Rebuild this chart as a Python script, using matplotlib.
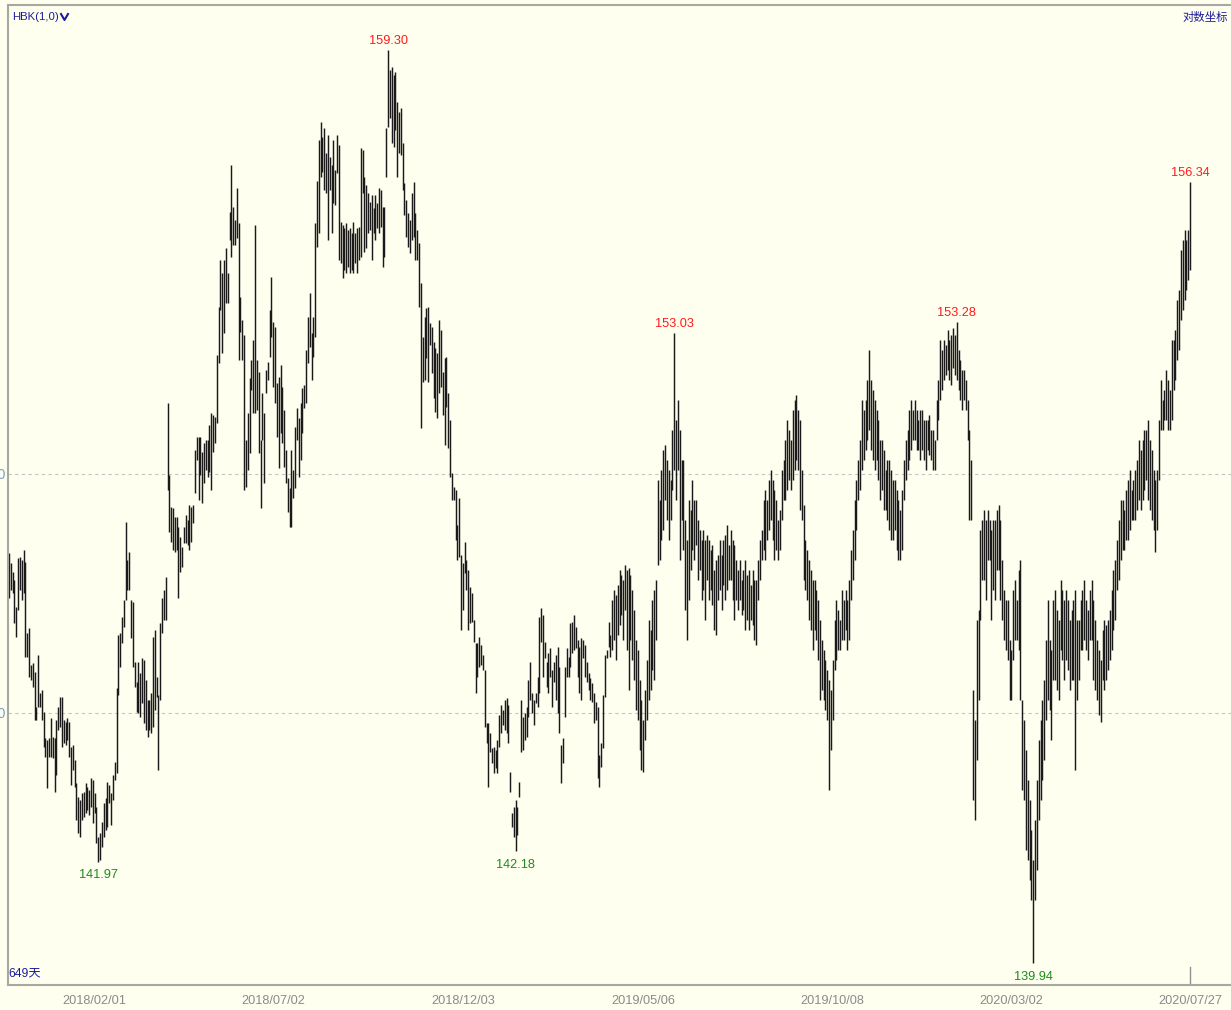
import numpy as np
import matplotlib
matplotlib.use("Agg")
import matplotlib.pyplot as plt
from matplotlib.ticker import NullLocator, FixedLocator, FixedFormatter

plt.rcParams["font.family"] = ["Liberation Sans", "Noto Sans CJK SC", "DejaVu Sans"]

# daily high / low, 649 trading days
highs = [
    148.33, 148.12, 147.93, 147.76, 147.19, 148.22, 148.24, 148.18, 148.39, 148.14,
    146.65, 146.76, 145.99, 146.03, 145.85, 145.13, 146.20, 145.41, 145.48, 145.02,
    144.49, 144.45, 144.49, 144.90, 144.51, 144.49, 144.86, 145.13, 145.33, 145.33,
    144.86, 144.82, 144.90, 144.82, 144.30, 144.34, 144.04, 143.57, 143.28, 143.22,
    143.36, 143.38, 143.57, 143.49, 143.43, 143.67, 143.63, 143.36, 143.08, 142.47,
    142.55, 142.78, 143.16, 143.26, 143.59, 143.53, 143.36, 143.73, 144.00, 145.52,
    146.61, 146.65, 146.99, 147.34, 148.98, 148.18, 148.35, 147.34, 147.30, 146.05,
    145.64, 146.05, 145.83, 146.14, 146.09, 145.68, 145.27, 145.27, 145.41, 146.57,
    146.72, 145.74, 145.37, 146.86, 147.38, 147.55,
    147.82, 151.52, 149.98, 149.30, 149.28, 149.09, 149.09, 148.88, 148.67, 148.45,
    148.88, 149.13, 149.03, 149.34, 149.30, 149.34, 150.51, 150.79, 150.79, 150.79,
    150.47, 150.66, 150.72, 150.72, 151.05, 151.30, 151.26, 151.22, 152.55, 153.60,
    154.62, 154.34, 154.62, 154.88, 154.34, 155.68, 156.72, 155.79, 155.50, 156.21,
    155.43, 153.82, 153.31, 152.99, 150.72, 151.30, 152.06, 152.44, 152.88, 155.39,
    152.44, 152.18, 150.72, 151.73, 151.30, 152.23, 152.40, 153.53, 154.25, 153.27,
    153.16, 151.94, 152.07, 152.33, 151.86, 151.37, 150.51, 149.92, 149.70, 150.51,
    150.09, 151.00, 151.41, 151.20, 151.52, 151.84, 151.90, 152.66, 153.38, 153.90,
    153.04,
    153.38, 155.43, 156.36, 157.27, 157.68, 157.34, 157.54, 156.98, 157.39, 156.89,
    156.72, 157.27, 156.61, 157.39, 157.16, 155.46, 155.39, 155.32, 155.43, 155.28,
    155.32, 155.21, 155.46, 155.21, 155.32, 155.35, 157.09, 157.05, 156.45, 156.27,
    156.10, 155.90, 156.05, 155.76, 156.05, 155.87, 156.21, 156.16, 155.79, 155.79,
    157.54, 159.30, 158.85, 158.92, 158.74, 158.81, 158.12, 157.90, 157.99, 157.21,
    156.32, 155.94, 155.65, 155.50, 156.10, 156.35, 155.65, 155.28, 155.00, 154.12,
    152.94, 153.38, 153.58, 153.60, 153.25, 153.16, 152.84, 152.70, 152.60, 153.31,
    153.10, 152.18, 152.49, 152.51, 151.73, 151.15, 150.02, 149.72, 149.66,
    148.92, 149.49, 148.28, 148.12, 148.56, 148.18, 147.97, 147.62, 147.49, 146.92,
    146.45, 146.45, 146.57, 146.40, 146.20, 145.89, 144.80, 144.80, 144.59, 144.28,
    144.30, 144.24, 144.45, 144.96, 145.17, 145.06, 145.27, 145.31, 145.17, 143.79,
    142.96, 143.08, 143.22, 143.08, 143.59, 145.27, 144.92, 145.00, 145.13, 145.68,
    146.05, 145.41, 145.27, 145.41, 145.74, 146.99, 147.17, 147.03, 146.47, 146.05,
    146.24, 146.34, 145.89, 146.05, 146.20, 146.36, 145.95, 144.34, 144.49, 145.95,
    146.34, 146.16, 146.86, 146.88, 147.03, 146.78, 146.51, 146.36, 146.55, 146.51,
    146.40, 146.05, 145.83, 145.72, 145.62, 145.41, 145.23, 145.13, 144.14, 144.38,
    145.37, 146.20, 146.30, 146.88, 146.61,
    147.34, 147.55, 147.45, 147.66, 147.97, 147.87, 147.76, 148.08, 147.97, 148.01,
    147.87, 147.55, 147.13, 146.51, 146.30, 145.68, 145.27, 144.86, 145.48, 146.09,
    146.92, 146.72, 147.34, 147.55, 147.76, 149.87, 149.45, 150.09, 150.51, 150.62,
    150.30, 150.09, 149.87, 150.94, 153.03, 151.15, 151.58, 150.94, 150.30, 150.30,
    149.03, 148.60, 149.45, 149.24, 149.87, 149.45, 149.45, 149.03, 148.81, 148.60,
    148.81, 148.60, 148.70, 148.60, 148.39, 148.50, 147.97, 148.18, 148.28, 148.60,
    148.28, 148.60, 148.70, 148.92, 148.50, 148.81, 148.60, 148.50, 148.18, 147.97,
    148.18, 147.76, 147.97, 148.18, 147.87, 147.97, 147.66, 147.97, 147.76, 147.76,
    148.18, 148.60, 148.81, 149.45, 149.66, 149.45, 149.87, 150.09, 149.87, 149.66,
    149.45, 149.03, 149.24, 150.09, 150.30, 150.72, 151.15, 150.94, 150.72, 151.37,
    151.58, 151.69, 151.37, 151.15, 150.09, 149.34, 148.60, 148.39, 148.18, 147.97,
    147.76, 147.76, 147.55, 147.34, 146.92, 146.51, 146.30, 146.09, 145.89, 145.68,
    145.48, 146.09, 146.92, 147.34, 147.13, 146.92, 147.55, 147.34, 147.55, 147.34,
    147.76, 148.39, 148.81, 149.45, 149.87, 150.30, 150.72, 151.58, 151.37, 151.58,
    152.01, 152.66, 152.01, 151.80, 151.58, 151.37, 151.15, 150.72, 150.72, 150.51,
    150.09, 150.30, 150.30, 150.09, 149.87, 149.87, 149.66, 149.45, 149.24, 149.66,
    150.30, 150.72, 150.94, 151.37, 151.58, 151.37, 151.58, 151.37, 151.15, 151.37,
    151.37, 151.15, 151.15, 151.15, 151.26, 150.94, 150.94, 150.72, 151.58, 152.01,
    152.88, 152.66, 152.88, 152.77, 153.10, 152.88, 152.99, 153.14, 152.99, 153.28,
    152.66, 152.44, 152.23, 152.23, 152.01, 151.58, 150.94, 150.30, 145.48, 144.86,
    146.92, 147.13, 148.81, 149.03, 149.24, 149.03, 149.24, 149.03, 148.81, 149.03,
    149.03, 149.24, 149.34, 149.03, 148.18, 147.55, 147.34, 147.34, 146.51, 146.30,
    147.55, 147.76, 147.34, 147.97, 148.18, 145.27, 144.86, 144.24, 143.63, 143.22,
    142.61, 142.01, 142.82, 143.63, 144.45, 144.86, 145.27, 145.68, 146.51, 147.34,
    146.51, 146.30, 147.34, 147.55, 147.13, 146.92, 147.76, 147.55, 147.34, 147.55,
    147.34, 146.92, 147.13, 147.34, 147.55, 146.92, 146.92, 147.34, 147.55, 147.76,
    147.34, 147.13, 147.55, 147.76, 147.34, 146.92, 146.51, 146.30, 146.09, 146.72,
    146.92, 146.82, 146.92, 147.13, 147.55, 147.97, 148.18, 148.60, 149.03, 149.45,
    149.45, 149.24, 149.66, 149.87, 150.09, 149.66, 149.87, 150.09, 150.30, 150.72,
    150.51, 150.72, 150.94, 150.94, 151.15, 150.72, 150.51, 150.09, 149.87, 150.09,
    151.15, 152.01, 151.58, 151.80, 152.23, 152.01, 151.80, 152.88, 152.88, 153.10,
    153.75, 153.97, 154.84, 155.06, 155.28, 155.06, 155.28, 156.34,
]
lows = [
    147.38, 147.55, 147.49, 146.86, 146.57, 147.13, 147.55, 147.34, 147.49, 146.16,
    146.16, 145.74, 145.68, 145.54, 144.86, 144.86, 145.13, 145.13, 144.86, 144.30,
    144.10, 143.46, 144.10, 144.10, 144.08, 143.38, 143.73, 144.65, 144.71, 144.30,
    144.38, 144.34, 144.45, 144.10, 143.53, 143.83, 143.49, 142.82, 142.55, 142.47,
    142.82, 142.88, 142.96, 143.02, 142.92, 143.08, 142.76, 142.96, 142.35, 141.97,
    142.01, 142.27, 142.47, 142.61, 142.67, 143.16, 142.72, 143.22, 143.63, 143.77,
    145.37, 145.95, 146.45, 146.78, 147.34, 147.55, 147.55, 146.55, 145.95, 145.54,
    145.02, 145.00, 144.92, 145.21, 144.80, 144.65, 144.51, 144.65, 144.59, 144.71,
    145.06, 145.33, 143.83, 145.27, 146.65, 146.92,
    146.92, 149.66, 148.77, 148.56, 148.39, 148.35, 148.39, 147.38, 147.93, 148.03,
    148.54, 148.54, 148.50, 148.39, 148.56, 148.96, 149.60, 150.30, 149.45, 149.98,
    149.39, 149.81, 150.09, 149.94, 150.04, 149.66, 150.47, 150.66, 151.09, 152.38,
    153.53, 152.60, 153.03, 153.68, 153.68, 155.06, 154.69, 154.95, 154.95, 155.10,
    152.44, 153.05, 152.44, 149.66, 149.72, 150.09, 150.45, 151.80, 151.30, 151.30,
    151.37, 150.45, 149.28, 150.72, 149.81, 151.73, 152.01, 152.51, 152.94, 151.86,
    151.52, 150.79, 150.13, 150.87, 150.66, 150.15, 149.81, 149.20, 148.88, 148.88,
    149.49, 149.70, 150.72, 149.94, 150.30, 150.87, 151.41, 151.52, 152.38, 152.73,
    152.01,
    152.51, 152.94, 154.91, 155.21, 156.45, 156.56, 156.16, 156.10, 155.06, 156.16,
    155.21, 155.87, 155.83, 156.54, 154.62, 154.56, 154.23, 154.40, 154.34, 154.47,
    154.34, 154.40, 154.34, 154.56, 154.34, 154.62, 154.69, 156.10, 154.80, 154.88,
    155.21, 155.28, 154.62, 155.21, 155.06, 155.32, 155.21, 155.35, 154.47, 154.69,
    156.45, 157.56, 157.77, 157.21, 157.12, 157.50, 156.45, 156.98, 156.94, 156.16,
    155.61, 155.13, 154.91, 154.77, 155.06, 155.13, 154.62, 154.62, 153.60, 150.98,
    151.97, 152.01, 152.49, 151.97, 152.77, 152.16, 151.62, 151.32, 151.20, 151.73,
    151.86, 151.26, 150.62, 151.43, 150.55, 149.94, 149.45, 149.45, 148.60,
    148.18, 148.24, 146.72, 147.13, 147.91, 147.55, 146.72, 146.86, 146.88, 146.47,
    145.41, 145.74, 145.95, 145.99, 145.89, 144.71, 144.38, 143.49, 144.20, 143.98,
    143.77, 143.87, 143.77, 144.30, 144.59, 144.75, 144.65, 144.59, 144.38, 143.38,
    142.67, 142.47, 142.18, 142.51, 143.28, 144.20, 144.24, 144.45, 144.51, 144.92,
    145.27, 145.00, 144.75, 145.21, 145.13, 145.41, 146.47, 145.74, 146.14, 145.54,
    145.41, 145.74, 145.13, 145.64, 145.27, 145.00, 144.59, 143.57, 143.98, 144.92,
    145.74, 145.74, 145.95, 146.24, 146.30, 146.34, 145.74, 145.41, 145.27, 146.14,
    145.74, 145.64, 145.48, 145.27, 145.23, 144.80, 144.86, 143.67, 143.49, 143.89,
    144.28, 145.33, 146.14, 146.36, 146.16,
    146.30, 146.51, 146.09, 146.61, 146.82, 147.03, 146.51, 147.13, 146.30, 145.48,
    146.51, 146.09, 145.68, 145.06, 144.86, 144.24, 143.83, 143.79, 144.45, 144.86,
    145.27, 145.48, 145.89, 145.68, 146.51, 148.08, 148.18, 148.60, 148.81, 149.45,
    149.03, 148.60, 149.03, 149.66, 150.09, 149.45, 150.09, 148.18, 149.03, 148.39,
    147.13, 146.51, 147.34, 147.97, 148.39, 148.18, 148.50, 147.76, 147.97, 147.34,
    147.55, 146.92, 147.76, 147.34, 147.55, 147.24, 146.72, 146.61, 147.34, 147.55,
    147.13, 147.66, 147.34, 147.55, 147.76, 147.76, 147.34, 146.92, 147.34, 147.13,
    147.34, 147.03, 147.13, 146.72, 146.92, 146.72, 146.92, 146.82, 146.51, 146.40,
    147.34, 147.76, 148.18, 148.39, 148.18, 148.60, 148.81, 149.03, 148.60, 148.18,
    148.39, 148.18, 148.39, 149.03, 149.45, 149.45, 149.66, 149.87, 149.66, 149.87,
    150.09, 150.30, 150.09, 149.24, 149.03, 147.76, 147.55, 147.34, 146.92, 146.72,
    146.30, 146.72, 146.51, 146.09, 145.27, 145.48, 145.27, 145.06, 144.86, 143.43,
    144.24, 144.86, 145.89, 146.09, 146.30, 146.30, 146.51, 146.51, 146.72, 146.30,
    146.51, 147.34, 147.76, 148.18, 148.81, 149.45, 149.66, 150.09, 150.30, 150.51,
    150.72, 150.94, 150.51, 150.30, 150.09, 150.30, 149.87, 149.45, 149.66, 149.24,
    149.24, 149.03, 148.81, 148.60, 148.60, 148.81, 148.39, 148.18, 148.18, 148.39,
    149.45, 149.87, 150.09, 150.30, 150.51, 150.72, 150.72, 150.51, 150.51, 150.30,
    150.51, 150.30, 150.09, 150.51, 150.41, 150.30, 150.09, 150.09, 150.72, 151.15,
    151.58, 151.80, 152.01, 152.12, 152.23, 152.01, 151.90, 152.27, 152.12, 152.01,
    151.80, 151.58, 151.37, 151.58, 151.37, 150.72, 149.03, 149.03, 143.22, 142.82,
    144.04, 145.27, 146.92, 147.76, 147.76, 147.34, 148.18, 148.18, 146.92, 147.55,
    147.34, 147.97, 147.97, 147.34, 146.92, 146.51, 146.30, 146.09, 145.27, 145.27,
    146.09, 146.51, 146.51, 146.30, 145.27, 143.43, 143.22, 142.21, 142.01, 141.61,
    141.20, 139.94, 141.20, 141.81, 142.82, 143.22, 143.63, 144.04, 144.86, 145.27,
    145.06, 144.45, 145.68, 145.68, 145.48, 145.27, 146.30, 146.09, 145.68, 146.09,
    145.89, 145.48, 145.68, 145.68, 143.83, 145.27, 145.68, 146.30, 146.30, 146.51,
    146.30, 146.09, 146.51, 146.51, 145.68, 145.48, 145.27, 144.96, 144.82, 145.68,
    145.48, 145.68, 145.89, 146.09, 146.30, 146.72, 146.92, 147.55, 147.76, 148.18,
    148.39, 148.39, 148.60, 148.60, 148.81, 149.03, 149.03, 149.03, 149.24, 149.45,
    149.24, 149.45, 149.66, 149.87, 149.45, 149.24, 149.03, 148.81, 148.35, 148.81,
    149.87, 150.94, 150.94, 151.15, 151.15, 150.94, 150.94, 151.15, 151.80, 152.01,
    152.44, 152.66, 153.31, 153.53, 153.75, 153.97, 154.19, 154.40,
]

n_days = 649
tick_idx = [47, 145, 249, 348, 452, 550, 648]
tick_labels = ["2018/02/01", "2018/07/02", "2018/12/03", "2019/05/06",
               "2019/10/08", "2020/03/02", "2020/07/27"]
peak_marks = [159.30, 153.03, 153.28, 156.34]
trough_marks = [141.97, 142.18, 139.94]
grid_prices = [145.0, 150.0]

BG = "#fffff0"
BLUE = "#1c1c9c"
W, H = 1231, 1010

fig = plt.figure(figsize=(W / 100, H / 100), dpi=100, facecolor=BG)
ax = fig.add_axes([8 / W, 25 / H, 1 - 8 / W, 980 / H])
ax.set_facecolor(BG)
ax.set_yscale("log")
ax.set_xlim(-0.55, 670.5)
ax.set_ylim(139.51, 160.32)

hi = np.array(highs)
lo = np.array(lows)
x = np.arange(len(hi))
ax.vlines(x, lo, hi, color="#1a1a1a", linewidth=1.05)

# y grid / labels (labels fall mostly outside the picture, as in the source)
ax.yaxis.set_major_locator(FixedLocator(grid_prices))
ax.yaxis.set_major_formatter(FixedFormatter([f"{p:.2f}" for p in grid_prices]))
ax.yaxis.set_minor_locator(NullLocator())
ax.tick_params(axis="y", length=0, pad=2, labelsize=10, labelcolor="#7a9cc6")
ax.grid(axis="y", color="#c4c4c4", linestyle=(0, (3, 3)), linewidth=0.8)

ax.set_xticks(tick_idx)
ax.set_xticklabels(tick_labels)
ax.tick_params(axis="x", length=0, pad=7.5, labelsize=9.2, labelcolor="#8a8a8a")

for side in ["left", "top", "bottom"]:
    ax.spines[side].set_color("#a8a8a0")
    ax.spines[side].set_linewidth(1.5)
ax.spines["right"].set_visible(False)

# extreme value labels
for v in peak_marks:
    hit = np.where(np.abs(hi - v) < 0.001)[0]
    if len(hit):
        ax.annotate(f"{v:.2f}", (hit[0], v), xytext=(0, 2), textcoords="offset points",
                    ha="center", va="bottom", color="#ff1a1a", fontsize=9.2)
for v in trough_marks:
    hit = np.where(np.abs(lo - v) < 0.001)[0]
    if len(hit):
        ax.annotate(f"{v:.2f}", (hit[0], v), xytext=(0, -5.5), textcoords="offset points",
                    ha="center", va="top", color="#1a8c1a", fontsize=9.2)

# marker of the last day
ax.plot([n_days - 1, n_days - 1], [0, 0.018], transform=ax.get_xaxis_transform(),
        color="#909090", linewidth=1)

fig.text(12 / W, 1 - 17 / H, "HBK(1,0)", color=BLUE, fontsize=8.2, va="center", ha="left")
fig.lines.append(plt.Line2D([61 / W, 64.5 / W, 68 / W], [1 - 14 / H, 1 - 20 / H, 1 - 14 / H],
                            transform=fig.transFigure, color=BLUE, linewidth=1.5))
fig.text(1228 / W, 1 - 17 / H, "对数坐标", color=BLUE, fontsize=8.2, va="center", ha="right",
         family=["Noto Sans CJK SC", "DejaVu Sans"])
fig.text(8 / W, 1 - 973 / H, f"{n_days}天", color=BLUE, fontsize=8.8, va="center", ha="left",
         family=["Liberation Sans", "Noto Sans CJK SC", "DejaVu Sans"])

fig.savefig("out.png", dpi=100, facecolor=BG)
